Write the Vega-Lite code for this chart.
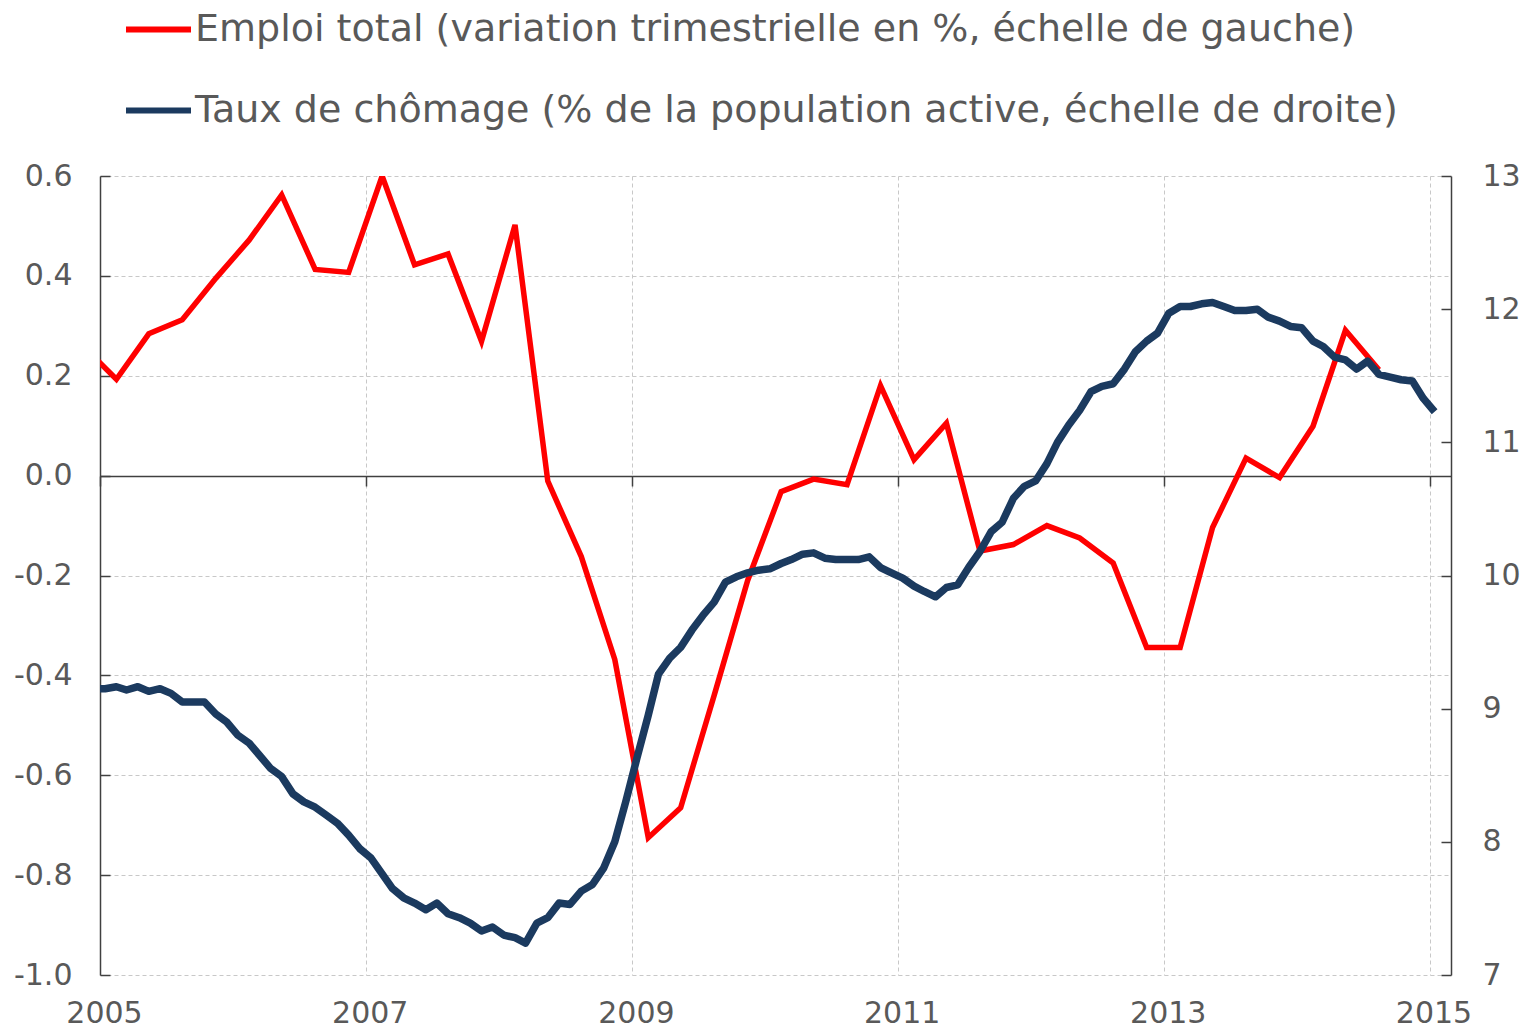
{
  "$schema": "https://vega.github.io/schema/vega-lite/v6.json",
  "autosize": {"type": "none"},
  "width": 1351,
  "height": 799,
  "padding": {"left": 100, "top": 176, "right": 72, "bottom": 56},
  "background": "white",
  "config": {
    "view": {"stroke": null},
    "font": "DejaVu Sans",
    "axis": {"labelFont": "DejaVu Sans", "labelColor": "#595959", "labelFontSize": 30, "domainColor": "#404040", "tickColor": "#404040", "domainWidth": 1.5, "tickWidth": 1.5, "gridColor": "#C8C8C8", "gridDash": [4, 3], "gridWidth": 1, "title": null}
  },
  "datasets": {
    "emploi": [
      {"date": "2004-11-15", "v": 0.26},
      {"date": "2005-02-15", "v": 0.193},
      {"date": "2005-05-15", "v": 0.284},
      {"date": "2005-08-15", "v": 0.312},
      {"date": "2005-11-15", "v": 0.395},
      {"date": "2006-02-15", "v": 0.472},
      {"date": "2006-05-15", "v": 0.562},
      {"date": "2006-08-15", "v": 0.413},
      {"date": "2006-11-15", "v": 0.407},
      {"date": "2007-02-15", "v": 0.6},
      {"date": "2007-05-15", "v": 0.422},
      {"date": "2007-08-15", "v": 0.444},
      {"date": "2007-11-15", "v": 0.269},
      {"date": "2008-02-15", "v": 0.502},
      {"date": "2008-05-15", "v": -0.011},
      {"date": "2008-08-15", "v": -0.162},
      {"date": "2008-11-15", "v": -0.368},
      {"date": "2009-02-15", "v": -0.725},
      {"date": "2009-05-15", "v": -0.665},
      {"date": "2009-08-15", "v": -0.44},
      {"date": "2009-11-15", "v": -0.21},
      {"date": "2010-02-15", "v": -0.032},
      {"date": "2010-05-15", "v": -0.007},
      {"date": "2010-08-15", "v": -0.018},
      {"date": "2010-11-15", "v": 0.18},
      {"date": "2011-02-15", "v": 0.032},
      {"date": "2011-05-15", "v": 0.105},
      {"date": "2011-08-15", "v": -0.151},
      {"date": "2011-11-15", "v": -0.138},
      {"date": "2012-02-15", "v": -0.1},
      {"date": "2012-05-15", "v": -0.125},
      {"date": "2012-08-15", "v": -0.175},
      {"date": "2012-11-15", "v": -0.344},
      {"date": "2013-02-15", "v": -0.344},
      {"date": "2013-05-15", "v": -0.104},
      {"date": "2013-08-15", "v": 0.035},
      {"date": "2013-11-15", "v": -0.004},
      {"date": "2014-02-15", "v": 0.099},
      {"date": "2014-05-15", "v": 0.291},
      {"date": "2014-08-15", "v": 0.212}
    ],
    "chomage": [
      {"date": "2004-12-15", "v": 9.15},
      {"date": "2005-01-15", "v": 9.15},
      {"date": "2005-02-15", "v": 9.165},
      {"date": "2005-03-15", "v": 9.14},
      {"date": "2005-04-15", "v": 9.165},
      {"date": "2005-05-15", "v": 9.13},
      {"date": "2005-06-15", "v": 9.15},
      {"date": "2005-07-15", "v": 9.115},
      {"date": "2005-08-15", "v": 9.05},
      {"date": "2005-09-15", "v": 9.05},
      {"date": "2005-10-15", "v": 9.05},
      {"date": "2005-11-15", "v": 8.96},
      {"date": "2005-12-15", "v": 8.9},
      {"date": "2006-01-15", "v": 8.8},
      {"date": "2006-02-15", "v": 8.74},
      {"date": "2006-03-15", "v": 8.65},
      {"date": "2006-04-15", "v": 8.55},
      {"date": "2006-05-15", "v": 8.49},
      {"date": "2006-06-15", "v": 8.36},
      {"date": "2006-07-15", "v": 8.3},
      {"date": "2006-08-15", "v": 8.26},
      {"date": "2006-09-15", "v": 8.2},
      {"date": "2006-10-15", "v": 8.14},
      {"date": "2006-11-15", "v": 8.05},
      {"date": "2006-12-15", "v": 7.95},
      {"date": "2007-01-15", "v": 7.88},
      {"date": "2007-02-15", "v": 7.76},
      {"date": "2007-03-15", "v": 7.65},
      {"date": "2007-04-15", "v": 7.58},
      {"date": "2007-05-15", "v": 7.54},
      {"date": "2007-06-15", "v": 7.49},
      {"date": "2007-07-15", "v": 7.54},
      {"date": "2007-08-15", "v": 7.46},
      {"date": "2007-09-15", "v": 7.43},
      {"date": "2007-10-15", "v": 7.39},
      {"date": "2007-11-15", "v": 7.33},
      {"date": "2007-12-15", "v": 7.36},
      {"date": "2008-01-15", "v": 7.3},
      {"date": "2008-02-15", "v": 7.28},
      {"date": "2008-03-15", "v": 7.24},
      {"date": "2008-04-15", "v": 7.39},
      {"date": "2008-05-15", "v": 7.43},
      {"date": "2008-06-15", "v": 7.54},
      {"date": "2008-07-15", "v": 7.53},
      {"date": "2008-08-15", "v": 7.63},
      {"date": "2008-09-15", "v": 7.68},
      {"date": "2008-10-15", "v": 7.8},
      {"date": "2008-11-15", "v": 8.0},
      {"date": "2008-12-15", "v": 8.3},
      {"date": "2009-01-15", "v": 8.63},
      {"date": "2009-02-15", "v": 8.95},
      {"date": "2009-03-15", "v": 9.26},
      {"date": "2009-04-15", "v": 9.38},
      {"date": "2009-05-15", "v": 9.46},
      {"date": "2009-06-15", "v": 9.59},
      {"date": "2009-07-15", "v": 9.7},
      {"date": "2009-08-15", "v": 9.8},
      {"date": "2009-09-15", "v": 9.95},
      {"date": "2009-10-15", "v": 9.99},
      {"date": "2009-11-15", "v": 10.02},
      {"date": "2009-12-15", "v": 10.04},
      {"date": "2010-01-15", "v": 10.05},
      {"date": "2010-02-15", "v": 10.09},
      {"date": "2010-03-15", "v": 10.12},
      {"date": "2010-04-15", "v": 10.16},
      {"date": "2010-05-15", "v": 10.17},
      {"date": "2010-06-15", "v": 10.13},
      {"date": "2010-07-15", "v": 10.12},
      {"date": "2010-08-15", "v": 10.12},
      {"date": "2010-09-15", "v": 10.12},
      {"date": "2010-10-15", "v": 10.14},
      {"date": "2010-11-15", "v": 10.06},
      {"date": "2010-12-15", "v": 10.02},
      {"date": "2011-01-15", "v": 9.98},
      {"date": "2011-02-15", "v": 9.92},
      {"date": "2011-03-15", "v": 9.88},
      {"date": "2011-04-15", "v": 9.84},
      {"date": "2011-05-15", "v": 9.91},
      {"date": "2011-06-15", "v": 9.93},
      {"date": "2011-07-15", "v": 10.06},
      {"date": "2011-08-15", "v": 10.18},
      {"date": "2011-09-15", "v": 10.33},
      {"date": "2011-10-15", "v": 10.4},
      {"date": "2011-11-15", "v": 10.58},
      {"date": "2011-12-15", "v": 10.67},
      {"date": "2012-01-15", "v": 10.71},
      {"date": "2012-02-15", "v": 10.84},
      {"date": "2012-03-15", "v": 11.0},
      {"date": "2012-04-15", "v": 11.13},
      {"date": "2012-05-15", "v": 11.24},
      {"date": "2012-06-15", "v": 11.38},
      {"date": "2012-07-15", "v": 11.42},
      {"date": "2012-08-15", "v": 11.44},
      {"date": "2012-09-15", "v": 11.55},
      {"date": "2012-10-15", "v": 11.68},
      {"date": "2012-11-15", "v": 11.76},
      {"date": "2012-12-15", "v": 11.82},
      {"date": "2013-01-15", "v": 11.97},
      {"date": "2013-02-15", "v": 12.02},
      {"date": "2013-03-15", "v": 12.02},
      {"date": "2013-04-15", "v": 12.04},
      {"date": "2013-05-15", "v": 12.05},
      {"date": "2013-06-15", "v": 12.02},
      {"date": "2013-07-15", "v": 11.99},
      {"date": "2013-08-15", "v": 11.99},
      {"date": "2013-09-15", "v": 12.0},
      {"date": "2013-10-15", "v": 11.94},
      {"date": "2013-11-15", "v": 11.91},
      {"date": "2013-12-15", "v": 11.87},
      {"date": "2014-01-15", "v": 11.86},
      {"date": "2014-02-15", "v": 11.76},
      {"date": "2014-03-15", "v": 11.72},
      {"date": "2014-04-15", "v": 11.64},
      {"date": "2014-05-15", "v": 11.62},
      {"date": "2014-06-15", "v": 11.55},
      {"date": "2014-07-15", "v": 11.61},
      {"date": "2014-08-15", "v": 11.51},
      {"date": "2014-09-15", "v": 11.49},
      {"date": "2014-10-15", "v": 11.47},
      {"date": "2014-11-15", "v": 11.46},
      {"date": "2014-12-15", "v": 11.33},
      {"date": "2015-01-15", "v": 11.23}
    ]
  },
  "layer": [
    {
      "data": {"name": "emploi"},
      "mark": {"type": "line", "clip": true, "strokeWidth": 5.5, "strokeJoin": "miter"},
      "encoding": {
        "x": {
          "field": "date", "type": "temporal",
          "scale": {"domain": [{"year": 2005, "month": 1, "date": 1}, {"year": 2015, "month": 3, "date": 1}]},
          "axis": {
            "orient": "bottom", "format": "%Y",
            "values": [{"year": 2005, "month": 1, "date": 1}, {"year": 2007, "month": 1, "date": 1}, {"year": 2009, "month": 1, "date": 1}, {"year": 2011, "month": 1, "date": 1}, {"year": 2013, "month": 1, "date": 1}, {"year": 2015, "month": 1, "date": 1}],
            "domain": false, "ticks": false, "grid": true, "labelPadding": 23, "labelOffset": 4, "labelFlush": false, "zindex": 0
          }
        },
        "y": {
          "field": "v", "type": "quantitative",
          "scale": {"domain": [-1, 0.6], "nice": false, "zero": false},
          "axis": {"orient": "left", "values": [-1, -0.8, -0.6, -0.4, -0.2, 0, 0.2, 0.4, 0.6], "labelExpr": "replace(format(datum.value, '.1f'), '−', '-')", "grid": true, "tickSize": -10, "labelPadding": 38, "zindex": 0}
        },
        "color": {
          "datum": "Emploi total (variation trimestrielle en %, échelle de gauche)",
          "type": "nominal",
          "scale": {
            "domain": ["Emploi total (variation trimestrielle en %, échelle de gauche)", "Taux de chômage (% de la population active, échelle de droite)"],
            "range": ["#FF0000", "#1B3A5F"]
          },
          "legend": {
            "orient": "none", "legendX": 23, "legendY": -182, "direction": "vertical", "title": null,
            "symbolType": "stroke", "symbolSize": 4225, "symbolStrokeWidth": 6,
            "labelFont": "DejaVu Sans", "labelFontSize": 38, "labelColor": "#595959", "labelLimit": 0,
            "labelOffset": 1, "rowPadding": 26
          }
        }
      }
    },
    {
      "data": {"name": "chomage"},
      "mark": {"type": "line", "clip": true, "strokeWidth": 7.5, "strokeJoin": "round"},
      "encoding": {
        "x": {
          "field": "date", "type": "temporal",
          "axis": {
            "orient": "bottom", "offset": -499, "format": "%Y",
            "values": [{"year": 2005, "month": 1, "date": 1}, {"year": 2007, "month": 1, "date": 1}, {"year": 2009, "month": 1, "date": 1}, {"year": 2011, "month": 1, "date": 1}, {"year": 2013, "month": 1, "date": 1}, {"year": 2015, "month": 1, "date": 1}],
            "domain": true, "ticks": true, "tickSize": 10, "labels": false, "grid": false, "zindex": 0
          }
        },
        "y": {
          "field": "v", "type": "quantitative",
          "scale": {"domain": [7, 13], "nice": false, "zero": false},
          "axis": {"orient": "right", "values": [7, 8, 9, 10, 11, 12, 13], "format": "d", "grid": false, "tickSize": -10, "labelPadding": 41, "zindex": 0}
        },
        "color": {"datum": "Taux de chômage (% de la population active, échelle de droite)", "type": "nominal"}
      }
    }
  ],
  "resolve": {"scale": {"y": "independent"}, "axis": {"x": "independent", "y": "independent"}}
}
